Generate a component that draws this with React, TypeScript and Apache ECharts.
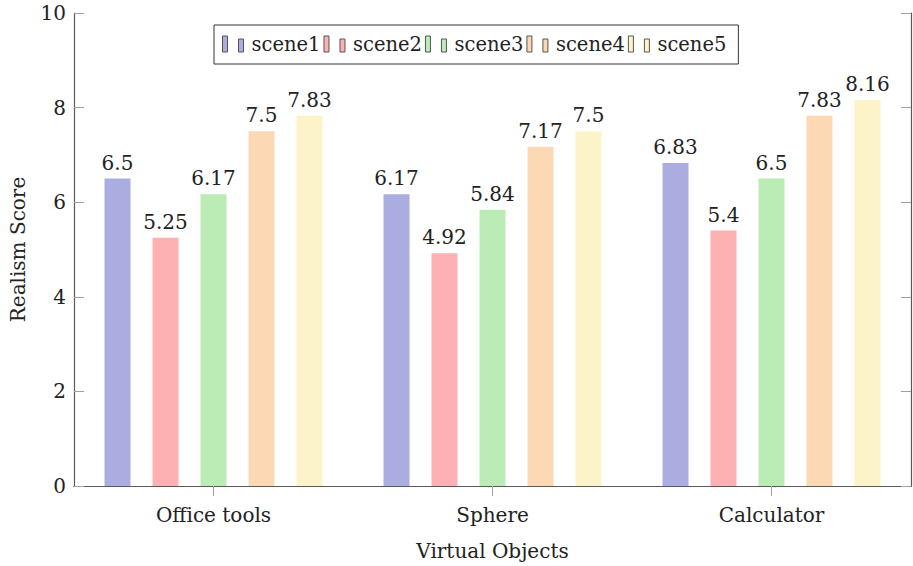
import React, { useEffect, useRef } from "react";
import * as echarts from "echarts";

const categories = ["Office tools", "Sphere", "Calculator"];
const seriesNames = ["scene1", "scene2", "scene3", "scene4", "scene5"];
const scene1 = [6.5, 6.17, 6.83];
const scene2 = [5.25, 4.92, 5.4];
const scene3 = [6.17, 5.84, 6.5];
const scene4 = [7.5, 7.17, 7.83];
const scene5 = [7.83, 7.5, 8.16];
const seriesValues = [scene1, scene2, scene3, scene4, scene5];
const colors = ["#abacdf", "#fdb1b3", "#bbecb6", "#fcd9b4", "#fcf4c8"];

const FONT = "DejaVu Serif";
const FS = 20;

export default function App() {
  const ref = useRef<HTMLDivElement>(null);
  useEffect(() => {
    if (!ref.current) return;
    const chart = echarts.init(ref.current, undefined, { renderer: "svg" });
    const axisLineColor = "#5a5a5a";
    const tickColor = "#a0a0a0";
    chart.setOption({
      animation: false,
      textStyle: { fontFamily: FONT, color: "#222" },
      grid: { left: 70, right: 2, top: 13, bottom: 80, containLabel: false },
      legend: {
        data: seriesNames,
        top: 25,
        left: 214,
        itemWidth: 21,
        itemHeight: 16,
        itemGap: 3,
        icon: "path://M0,0h5v16h-5z M16,3h5v13h-5z",
        backgroundColor: "#fff",
        borderColor: "#333",
        borderWidth: 1,
        borderRadius: 0,
        padding: [9, 12, 10, 8],
        textStyle: { fontFamily: FONT, fontSize: 19.5, color: "#222", padding: [0, 0, 0, 3] },
        itemStyle: { borderColor: "#555", borderWidth: 1 },
      },
      xAxis: [
        {
          type: "category",
          data: categories,
          position: "bottom",
          axisLine: { show: true, lineStyle: { color: axisLineColor, width: 1.2 } },
          axisTick: { show: true, alignWithLabel: true, length: 10, lineStyle: { color: tickColor } },
          axisLabel: { fontFamily: FONT, fontSize: FS, color: "#222", margin: 19 },
          name: "Virtual Objects",
          nameLocation: "middle",
          nameGap: 55,
          nameTextStyle: { fontFamily: FONT, fontSize: FS, color: "#222" },
        },
        {
          type: "category",
          data: categories,
          position: "top",
          axisLine: { show: true, lineStyle: { color: axisLineColor, width: 1.2 } },
          axisTick: { show: true, alignWithLabel: true, length: 13, lineStyle: { color: tickColor } },
          axisLabel: { show: false },
        },
      ],
      yAxis: [
        {
          type: "value",
          min: 0,
          max: 10,
          interval: 2,
          position: "left",
          splitLine: { show: false },
          axisLine: { show: true, lineStyle: { color: axisLineColor, width: 1.2 } },
          axisTick: { show: true, inside: true, length: 10, lineStyle: { color: tickColor } },
          axisLabel: { fontFamily: FONT, fontSize: FS, color: "#222", margin: 8 },
          name: "Realism Score",
          nameLocation: "middle",
          nameGap: 46,
          nameTextStyle: { fontFamily: FONT, fontSize: FS, color: "#222" },
        },
        {
          type: "value",
          min: 0,
          max: 10,
          interval: 2,
          position: "right",
          splitLine: { show: false },
          axisLine: { show: true, lineStyle: { color: axisLineColor, width: 1.2 } },
          axisTick: { show: true, inside: true, length: 10, lineStyle: { color: tickColor } },
          axisLabel: { show: false },
        },
      ],
      series: seriesNames.map((name, i) => ({
        name,
        type: "bar",
        data: seriesValues[i],
        xAxisIndex: 0,
        yAxisIndex: 0,
        barWidth: 26,
        barGap: "84.6%",
        itemStyle: { color: colors[i] },
        label: {
          show: true,
          position: "top",
          distance: 6,
          fontFamily: FONT,
          fontSize: FS,
          color: "#222",
        },
      })),
    });
    return () => chart.dispose();
  }, []);
  return <div ref={ref} style={{ width: 913, height: 566, position: "absolute", left: 0, top: 0 }} />;
}
